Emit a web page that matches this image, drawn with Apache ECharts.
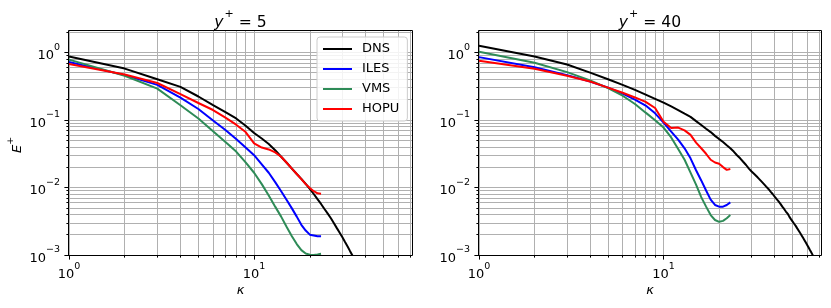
<!DOCTYPE html>
<html><head><meta charset="utf-8">
<script src="https://cdn.jsdelivr.net/npm/echarts@6/dist/echarts.min.js"></script>
<style>html,body{margin:0;padding:0;background:#fff}#c{width:831px;height:308px}</style>
</head><body><div id="c"></div>
<script>
// ---------- data ----------
const seriesNames = ['DNS', 'ILES', 'VMS', 'HOPU'];
const panelTitles = ['5', '40'];

const kappaLES = [1,2,3,4,5,6,7,8,9,10,11,12,13,14,15,16,17,18,19,20,21,22,23];
const kappaDNS5 = [1,2,3,4,5,6,7,8,9,10,11,12,13,14,15,16,17,18,19,20,21,22,23,24,25,26,27,28,29,30,31,32,33,34,35,36];
const kappaDNS40 = [1,2,3,4,5,6,7,8,9,10,11,12,13,14,15,16,17,18,19,20,21,22,23,24,25,26,27,28,29,30,31,32,33,34,35,36,37,38,39,40,41,42,43,44,45,46,47,48,49,50,51,52,53,54,55,56,57,58,59,60,61,62,63,64,65,66];

// y+ = 5
const dns5 = [0.87,0.575,0.40,0.308,0.222,0.165,0.130,0.105,0.082,0.064,0.053,0.044,0.0355,0.0285,0.0232,0.0190,0.0158,0.0134,0.0113,0.0095,0.0080,0.0067,0.0057,0.0048,0.0041,0.0035,0.00296,0.0025,0.00214,0.00183,0.00156,0.00134,0.00114,0.00098,0.00084,0.00073];
const iles5 = [0.72,0.46,0.33,0.213,0.145,0.098,0.071,0.052,0.039,0.030,0.022,0.0165,0.0120,0.0088,0.0065,0.0049,0.0037,0.0028,0.0023,0.0020,0.00195,0.0019,0.0019];
const vms5 = [0.78,0.45,0.29,0.165,0.105,0.068,0.047,0.034,0.0235,0.0165,0.0112,0.0076,0.0052,0.0037,0.0026,0.0019,0.00145,0.00118,0.00105,0.00101,0.00100,0.00102,0.00104];
const hopu5 = [0.67,0.47,0.352,0.24,0.178,0.14,0.108,0.085,0.066,0.045,0.039,0.0365,0.033,0.0285,0.0232,0.0190,0.0158,0.0133,0.0112,0.0098,0.0088,0.0082,0.0081];

// y+ = 40
const dns40 = [1.25,0.87,0.66,0.50,0.40,0.33,0.278,0.237,0.205,0.180,0.158,0.140,0.124,0.111,0.096,0.084,0.074,0.066,0.058,0.052,0.047,0.042,0.038,0.034,0.030,0.027,0.024,0.0215,0.019,0.0172,0.0158,0.0145,0.0133,0.0122,0.0112,0.0103,0.0095,0.0087,0.0080,0.0073,0.0067,0.0062,0.0057,0.0052,0.0048,0.0044,0.0041,0.0037,0.0034,0.0032,0.0029,0.0027,0.00248,0.00229,0.00211,0.00195,0.0018,0.00166,0.00153,0.00141,0.0013,0.0012,0.00111,0.00102,0.00093,0.00085];
const iles40 = [0.85,0.60,0.46,0.37,0.30,0.245,0.20,0.163,0.125,0.091,0.067,0.051,0.038,0.027,0.018,0.0127,0.0090,0.0066,0.0055,0.0052,0.0052,0.0055,0.0060];
const vms40 = [1.02,0.70,0.51,0.385,0.295,0.228,0.172,0.128,0.099,0.077,0.055,0.037,0.0257,0.0166,0.011,0.0072,0.0052,0.0039,0.0033,0.0031,0.0032,0.0035,0.0039];
const hopu40 = [0.75,0.57,0.45,0.37,0.30,0.252,0.215,0.185,0.15,0.094,0.076,0.077,0.070,0.060,0.046,0.038,0.0315,0.0257,0.0234,0.0224,0.020,0.0182,0.0187];

// tick values
const xMajorTicks = [1, 10];
const xMinorTicks = [2,3,4,5,6,7,8,9,20,30,40,50,60,70];
const yMajorTicks = [0.001, 0.01, 0.1, 1];
const yMinorTicks = [0.002,0.003,0.004,0.005,0.006,0.007,0.008,0.009,0.02,0.03,0.04,0.05,0.06,0.07,0.08,0.09,0.2,0.3,0.4,0.5,0.6,0.7,0.8,0.9,2];

// ---------- styling ----------
const FONT = 'DejaVu Sans';
const GRIDC = '#b0b0b0';
const COLORS = { DNS: '#000000', ILES: '#0000ff', VMS: '#2e8b57', HOPU: '#ff0000' };
const XMIN = 1, XMAX = 71.3, YMIN = 0.001, YMAX = 2.07;
const grids = [
  { left: 69, top: 31, width: 343, height: 224 },
  { left: 479, top: 31, width: 342, height: 224 }
];

const labelRich = {
  b: { fontSize: 13, fontFamily: FONT, color: '#000', lineHeight: 20, verticalAlign: 'bottom' },
  s: { fontSize: 9.5, fontFamily: FONT, color: '#000', lineHeight: 10, verticalAlign: 'top' }
};
function powLabel(v) {
  const e = Math.round(Math.log10(v));
  return '{b|10}{s|' + (e < 0 ? '\u2212' + (-e) : String(e)) + '}';
}

function pairs(ks, vs) { return vs.map((v, i) => [ks[i], v]); }

const xAxes = [], yAxes = [];
grids.forEach((g, gi) => {
  xAxes.push({
    type: 'log', logBase: 10, gridIndex: gi, min: XMIN, max: XMAX, position: 'bottom',
    axisLine: { show: false },
    axisTick: { show: true, customValues: xMajorTicks, length: 4.6, lineStyle: { color: '#000', width: 1 } },
    axisLabel: { show: true, customValues: xMajorTicks, formatter: powLabel, rich: labelRich, margin: 6.5 },
    splitLine: { show: true, lineStyle: { color: GRIDC, width: 1 } }
  });
  xAxes.push({
    type: 'log', logBase: 10, gridIndex: gi, min: XMIN, max: XMAX, position: 'bottom',
    axisLine: { show: false },
    axisTick: { show: true, customValues: xMinorTicks, length: 2.6, lineStyle: { color: '#000', width: 1 } },
    axisLabel: { show: false },
    splitLine: { show: true, lineStyle: { color: GRIDC, width: 1 } }
  });
  yAxes.push({
    type: 'log', logBase: 10, gridIndex: gi, min: YMIN, max: YMAX, position: 'left',
    axisLine: { show: false },
    axisTick: { show: true, customValues: yMajorTicks, length: 4.6, lineStyle: { color: '#000', width: 1 } },
    axisLabel: { show: true, customValues: yMajorTicks, formatter: powLabel, rich: labelRich, margin: 9 },
    splitLine: { show: true, lineStyle: { color: GRIDC, width: 1 } }
  });
  yAxes.push({
    type: 'log', logBase: 10, gridIndex: gi, min: YMIN, max: YMAX, position: 'left',
    axisLine: { show: false },
    axisTick: { show: true, customValues: yMinorTicks, length: 2.6, lineStyle: { color: '#000', width: 1 } },
    axisLabel: { show: false },
    splitLine: { show: true, lineStyle: { color: GRIDC, width: 1 } }
  });
});

const panelData = [
  { DNS: pairs(kappaDNS5, dns5), ILES: pairs(kappaLES, iles5), VMS: pairs(kappaLES, vms5), HOPU: pairs(kappaLES, hopu5) },
  { DNS: pairs(kappaDNS40, dns40), ILES: pairs(kappaLES, iles40), VMS: pairs(kappaLES, vms40), HOPU: pairs(kappaLES, hopu40) }
];

const series = [];
panelData.forEach((pd, gi) => {
  seriesNames.forEach(name => {
    series.push({
      name, type: 'line', xAxisIndex: 2 * gi, yAxisIndex: 2 * gi, data: pd[name],
      symbol: 'none', showSymbol: false, clip: true, smooth: false,
      lineStyle: { color: COLORS[name], width: 2 }, itemStyle: { color: COLORS[name] },
      emphasis: { disabled: true }, z: 3
    });
  });
});

const titleRich = {
  i: { fontSize: 15.6, fontFamily: FONT, fontStyle: 'italic', color: '#000', lineHeight: 24, verticalAlign: 'bottom' },
  s: { fontSize: 11, fontFamily: FONT, color: '#000', verticalAlign: 'top', padding: [2, 0, 0, 1] },
  n: { fontSize: 15.6, fontFamily: FONT, color: '#000', lineHeight: 24, verticalAlign: 'bottom' }
};

const graphics = [];
grids.forEach((g, gi) => {
  graphics.push({
    type: 'rect', z: 100, silent: true,
    shape: { x: g.left - 0.5, y: g.top - 0.5, width: g.width + 1, height: g.height + 1 },
    style: { fill: 'none', stroke: '#000', lineWidth: 1 }
  });
  graphics.push({
    type: 'text', z: 100, silent: true, x: g.left + g.width / 2, y: 18.5,
    style: { text: '{i|y}{s|+}{n| = ' + panelTitles[gi] + '}', rich: titleRich, align: 'center', verticalAlign: 'middle' }
  });
  graphics.push({
    type: 'text', z: 100, silent: true, x: g.left + g.width / 2, y: 291,
    style: { text: '\u03ba', font: 'italic 13px "DejaVu Sans"', fill: '#000', align: 'center', verticalAlign: 'middle' }
  });
});
graphics.push({
  type: 'text', z: 100, silent: true, x: 14.5, y: 145, rotation: Math.PI / 2,
  style: {
    text: '{i|E}{s|+}', align: 'center', verticalAlign: 'middle',
    rich: {
      i: { fontSize: 13, fontFamily: FONT, fontStyle: 'italic', color: '#000', lineHeight: 20, verticalAlign: 'bottom' },
      s: { fontSize: 9.5, fontFamily: FONT, color: '#000', verticalAlign: 'top', padding: [1, 0, 0, 0] }
    }
  }
});

const chart = echarts.init(document.getElementById('c'), null, { renderer: 'canvas' });
chart.setOption({
  animation: false,
  backgroundColor: '#ffffff',
  grid: grids.map(g => Object.assign({ containLabel: false }, g)),
  xAxis: xAxes,
  yAxis: yAxes,
  legend: {
    data: seriesNames, orient: 'vertical', left: 317, top: 37,
    padding: [5, 8, 5, 5], itemWidth: 29, itemHeight: 14, itemGap: 6,
    backgroundColor: 'rgba(255,255,255,0.85)', borderColor: '#cccccc', borderWidth: 1, borderRadius: 3,
    itemStyle: { opacity: 0 },
    lineStyle: { width: 2 },
    textStyle: { fontSize: 13, fontFamily: FONT, color: '#000', padding: [0, 0, 0, 5], lineHeight: 14 },
    selectedMode: false, z: 50
  },
  series,
  graphic: graphics
});
</script>
</body></html>
